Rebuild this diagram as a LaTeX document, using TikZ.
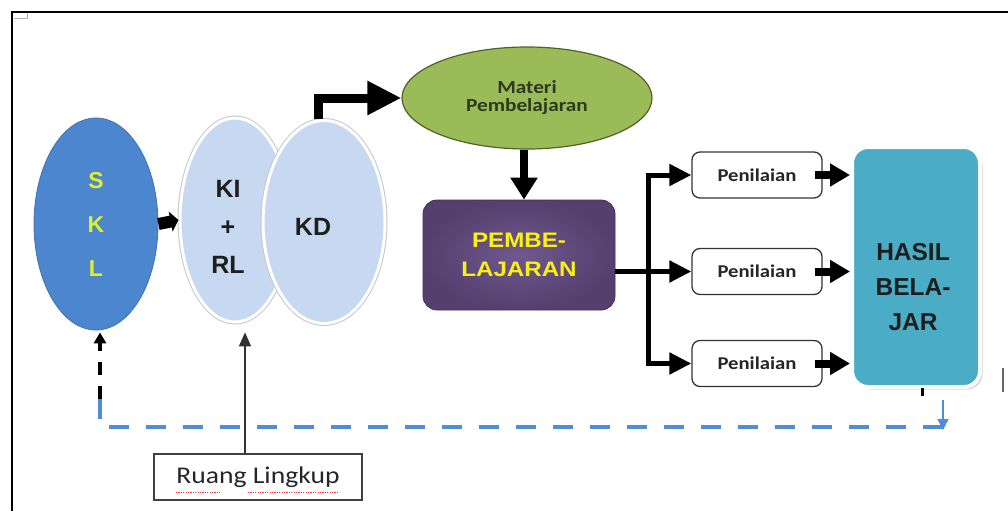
\documentclass[tikz,border=0pt]{standalone}
\usepackage{fontspec}
\setmainfont{Carlito}
\newfontfamily\arl{Liberation Sans}
\newfontfamily\arlw{Liberation Sans}[FakeStretch=1.15]
\newfontfamily\calw{Carlito}[FakeStretch=1.15]
\usetikzlibrary{shapes.geometric,arrows.meta,shadows,calc}
\definecolor{sklblue}{RGB}{76,134,206}
\definecolor{sklyellow}{RGB}{222,240,40}
\definecolor{lightblue}{RGB}{198,217,241}
\definecolor{matgreen}{RGB}{155,187,89}
\definecolor{matborder}{RGB}{79,98,40}
\definecolor{mattext}{RGB}{45,58,30}
\definecolor{purp}{RGB}{95,73,122}
\definecolor{purpin}{RGB}{112,88,142}
\definecolor{purpout}{RGB}{84,63,110}
\definecolor{pyellow}{RGB}{250,240,20}
\definecolor{hasilblue}{RGB}{75,172,198}
\definecolor{dashblue}{RGB}{80,140,215}
\definecolor{txtdark}{RGB}{30,30,30}
\begin{document}
\begin{tikzpicture}[x=1pt,y=-1pt,
  sklstyle/.style={ellipse, fill=sklblue, draw=sklblue!85!black, line width=0.8pt,
    minimum width=124pt, minimum height=212pt, inner sep=0pt, align=center,
    text=sklyellow, font={\arl\bfseries\fontsize{23}{44}\selectfont}},
  lightell/.style={ellipse, fill=lightblue, draw=white, line width=3pt,
    preaction={draw=black!22, line width=5pt}, inner sep=0pt},
  eltext/.style={align=center, text=txtdark, inner sep=0pt,
    font={\arl\bfseries\fontsize{25}{38}\selectfont}},
  materistyle/.style={ellipse, fill=matgreen, draw=matborder, line width=1.2pt,
    minimum width=250pt, minimum height=102pt, inner sep=0pt, align=center,
    text=mattext, font={\calw\bfseries\fontsize{18.5}{18}\selectfont}},
  pembstyle/.style={rectangle, rounded corners=14pt, shading=radial,
    inner color=purpin, outer color=purpout, draw=purpout!80!black, line width=0.8pt,
    minimum width=192pt, minimum height=110pt, align=center, text=pyellow,
    font={\arlw\bfseries\fontsize{21}{29}\selectfont}},
  penstyle/.style={rectangle, rounded corners=8pt, draw=black!80, line width=1.3pt,
    fill=white, minimum width=130pt, minimum height=46pt, text=black!85,
    font={\calw\bfseries\fontsize{18}{20}\selectfont}},
  hasilstyle/.style={rectangle, rounded corners=16pt, fill=hasilblue, draw=white,
    line width=4pt, minimum width=128pt, minimum height=240pt,
    drop shadow={opacity=0.35, shadow xshift=2.5pt, shadow yshift=-2.5pt}},
  hasiltext/.style={align=center, text=txtdark, inner sep=0pt,
    font={\arl\bfseries\fontsize{24.5}{35}\selectfont}},
  ruangstyle/.style={rectangle, draw=black!75, line width=1.3pt, fill=white,
    minimum width=208pt, minimum height=46pt, text=black!85,
    font={\calw\fontsize{24}{26}\selectfont}},
  blockarrow/.style={line width=#1, line join=miter},
  bluedash/.style={draw=dashblue, line width=4pt, dash pattern=on 20pt off 17pt},
  blackdash/.style={draw=black, line width=4pt, dash pattern=on 13pt off 11pt}
]
\useasboundingbox (0,0) rectangle (1008,511);
\fill[white] (0,0) rectangle (1008,511);
% frame
\draw[line width=1.6pt] (12,511) -- (12,12) -- (1008,12);
\draw[black!30, line width=0.8pt] (14,18.5) -- (27,18.5) -- (27,13);

% nodes
\node[sklstyle] (skl) at (96,224) {S\\K\\L};
\node[lightell, minimum width=110pt, minimum height=204pt] (ki) at (235,220) {};
\node[eltext] (kit) at (228,227) {KI\\+\\RL};
\node[lightell, minimum width=122pt, minimum height=203pt] (kd) at (324,222) {};
\node[eltext] (kdt) at (313,227) {KD};
\node[materistyle] (materi) at (527,98) {Materi\\Pembelajaran};
\node[pembstyle] (pemb) at (519,255) {PEMBE-\\LAJARAN};
\node[penstyle] (p1) at (757,175) {Penilaian};
\node[penstyle] (p2) at (757,271.5) {Penilaian};
\node[penstyle] (p3) at (757,363.5) {Penilaian};
\node[hasilstyle] (hasil) at (916,267) {};
\node[hasiltext] (ht) at (913,287) {HASIL\\BELA-\\JAR};
\node[ruangstyle] (ruang) at (258,477) {Ruang Lingkup};

% red spell-check underline
\draw[red!80, line width=1pt, dash pattern=on 1.2pt off 1.2pt]
  ($(ruang.center)+(-82,15)$) -- ($(ruang.center)+(-38,15)$)
  ($(ruang.center)+(-10,15)$) -- ($(ruang.center)+(80,15)$);

% arrows
\draw[blockarrow=12pt, -{Triangle[width=20pt,length=8pt]}] (skl.east) -- (ki.west);
\draw[blockarrow=9pt, -{Triangle[width=32pt,length=34pt]}]
  ([xshift=-6pt]kd.north) |- (materi.west);
\draw[blockarrow=8pt, -{Triangle[width=26pt,length=22pt]}]
  ([xshift=-3pt]materi.south) -- ([xshift=-3pt]materi.south |- pemb.north);

\coordinate (trunk) at (648,268);
\draw[line width=5pt] (pemb.east |- p2.west) -- (trunk |- p2.west);
\draw[line width=5pt, line cap=butt] ([yshift=2.5pt]trunk |- p1.west) -- ([yshift=-2.5pt]trunk |- p3.west);
\foreach \p in {p1,p2,p3}{
  \draw[line width=5pt, -{Triangle[width=21pt,length=22pt]}] ([xshift=-2.5pt]trunk |- \p.west) -- (\p.west);
  \draw[line width=8pt, -{Triangle[width=22pt,length=20pt]}] ([xshift=-8pt]\p.east) -- (\p.east -| hasil.west);
}

% tick under HASIL box and cursor line
\draw[line width=3pt] ([xshift=6pt,yshift=1pt]hasil.south) -- ([xshift=6pt,yshift=-7pt]hasil.south);
\draw[black!60, line width=1.5pt] (1003,368) -- (1003,392);

% dashed feedback line
\coordinate (dr) at (943,427);
\coordinate (dl) at (100,427);
\coordinate (dm) at (100,399);
\draw[bluedash] (dr) -- (dl) -- (dm);
\draw[blackdash, -{Triangle[width=12pt,length=11pt]}] (dm) -- ([yshift=-2pt]skl.south -| dl);
\coordinate (bs) at (943,400);
\draw[dashblue, line width=1.3pt, -{Triangle[width=11pt,length=11pt]}] (bs) -- ([yshift=-3pt]dr);

% ruang lingkup arrow
\draw[black!80, line width=1.5pt, -{Triangle[width=12pt,length=14pt]}]
  ([xshift=-13pt]ruang.north) -- ([xshift=-13pt,yshift=121pt]ruang.north);
\end{tikzpicture}
\end{document}
